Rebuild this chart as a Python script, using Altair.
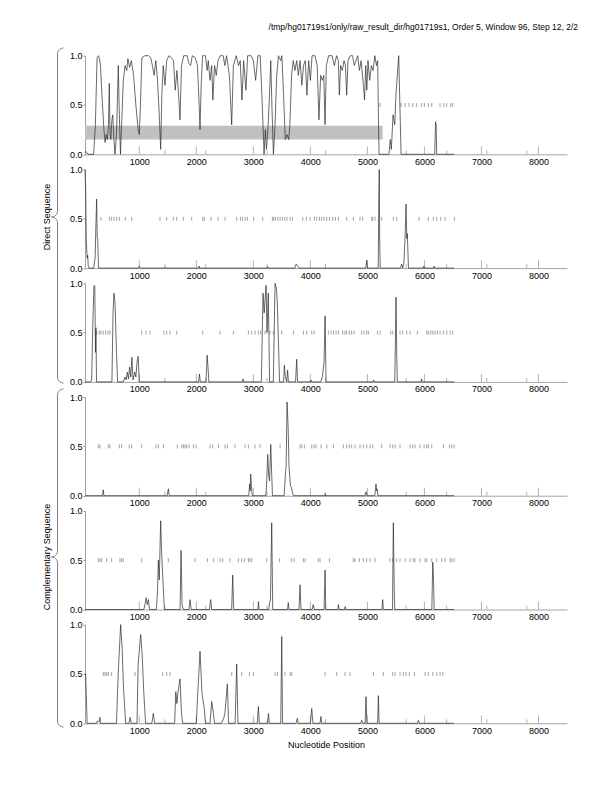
import altair as alt
import pandas as pd
import numpy as np

FONT = "Liberation Sans"
W, H = 482, 98.6
X0, X1 = 48, 8500
SPACING = 14.8

TITLE = "/tmp/hg01719s1/only/raw_result_dir/hg01719s1, Order 5, Window 96, Step 12, 2/2"
XTITLE = "Nucleotide Position"
LABEL_DIRECT = "Direct Sequence"
LABEL_COMP = "Complementary Sequence"

major_ticks = [1000, 2000, 3000, 4000, 5000, 6000, 7000, 8000]
minor_ticks = [1450, 2165, 3240, 4265, 5680, 6390, 7095, 7795]
y_ticks = [0.0, 0.5, 1.0]

# predicted gene (panel 1)
gene_start = [48]
gene_end = [5268]
gene_lo = [0.15]
gene_hi = [0.29]

# ---- coding potential curves (position, value) ----
p1_pos = [48, 60, 100, 200, 230, 260, 285, 300, 320, 345, 380, 400, 420, 440, 460, 474, 485, 500, 520, 535, 550, 574, 600, 632, 650, 670, 690, 720, 750, 780, 800, 830, 860, 900, 940, 980, 1000, 1020, 1045, 1100, 1160, 1200, 1230, 1260, 1290, 1320, 1350, 1375, 1395, 1420, 1450, 1480, 1520, 1560, 1600, 1630, 1660, 1690, 1714, 1740, 1780, 1840, 1870, 1900, 1930, 1980, 2020, 2050, 2065, 2085, 2110, 2160, 2190, 2210, 2240, 2270, 2290, 2320, 2350, 2380, 2420, 2470, 2500, 2530, 2580, 2620, 2650, 2700, 2740, 2770, 2800, 2830, 2870, 2900, 2960, 3000, 3040, 3080, 3120, 3150, 3188, 3210, 3230, 3260, 3290, 3305, 3325, 3352, 3380, 3410, 3440, 3480, 3500, 3530, 3560, 3590, 3620, 3640, 3670, 3700, 3730, 3760, 3790, 3820, 3850, 3880, 3910, 3940, 3970, 4000, 4030, 4080, 4120, 4150, 4180, 4210, 4235, 4257, 4280, 4320, 4380, 4420, 4460, 4490, 4508, 4530, 4560, 4590, 4615, 4637, 4660, 4700, 4740, 4770, 4800, 4830, 4860, 4890, 4930, 4950, 4970, 4990, 5010, 5040, 5070, 5100, 5130, 5160, 5180, 5195, 5205, 5380, 5400, 5420, 5450, 5480, 5500, 5549, 5570, 5590, 6180, 6195, 6205, 6215, 6520]
p1_val = [0.02, 0.03, 0.0, 0.0, 0.3, 0.98, 1.0, 0.97, 0.9, 0.6, 0.25, 0.12, 0.2, 0.15, 0.3, 0.72, 0.25, 0.15, 0.35, 0.4, 0.2, 0.0, 0.2, 0.9, 0.4, 0.0, 0.3, 0.75, 0.9, 0.85, 0.97, 0.88, 0.95, 0.8, 0.5, 0.25, 0.2, 0.5, 0.98, 1.0, 1.0, 0.98, 0.9, 0.8, 0.95, 0.75, 0.4, 0.05, 0.6, 0.9, 0.7, 0.95, 1.0, 0.98, 0.95, 0.65, 0.85, 0.6, 0.35, 0.9, 1.0, 1.0, 0.92, 0.9, 1.0, 0.98, 0.9, 0.5, 0.25, 0.7, 1.0, 1.0, 0.85, 0.95, 0.75, 0.9, 0.55, 0.9, 0.8, 0.95, 1.0, 1.0, 0.9, 1.0, 0.8, 0.3, 0.9, 1.0, 0.9, 0.95, 0.55, 0.95, 0.65, 1.0, 1.0, 0.95, 0.75, 1.0, 1.0, 0.6, 0.0, 0.25, 0.05, 0.3, 0.7, 0.95, 0.5, 0.0, 0.3, 0.8, 1.0, 0.95, 1.0, 0.6, 0.15, 0.2, 0.15, 0.3, 0.8, 0.95, 0.85, 0.95, 0.8, 0.95, 0.7, 0.9, 0.95, 0.6, 0.95, 0.75, 1.0, 1.0, 0.9, 0.35, 0.8, 0.75, 0.8, 0.3, 0.9, 1.0, 1.0, 0.9, 1.0, 0.95, 0.6, 0.9, 0.85, 0.95, 0.9, 0.6, 0.95, 1.0, 1.0, 0.9, 0.95, 1.0, 0.85, 0.95, 0.7, 0.55, 0.9, 0.65, 0.95, 0.75, 0.9, 0.85, 1.0, 0.9, 0.95, 0.3, 0.0, 0.0, 0.15, 0.05, 0.4, 0.3, 0.6, 1.0, 0.5, 0.0, 0.0, 0.33, 0.3, 0.0, 0.0]

p2_pos = [48, 60, 70, 85, 95, 105, 120, 200, 225, 240, 252, 262, 270, 285, 980, 1000, 1020, 1440, 1450, 1460, 2040, 2050, 2060, 3240, 3250, 3260, 3730, 3750, 3780, 3800, 4970, 4988, 5000, 5190, 5200, 5208, 5215, 5225, 5580, 5600, 5620, 5640, 5660, 5678, 5690, 5700, 5720, 5980, 5990, 6000, 6160, 6170, 6180, 6520]
p2_val = [1.0, 0.8, 0.3, 0.1, 0.13, 0.02, 0.0, 0.0, 0.1, 0.45, 0.7, 0.3, 0.3, 0.0, 0.0, 0.02, 0.0, 0.0, 0.01, 0.0, 0.0, 0.02, 0.0, 0.0, 0.015, 0.0, 0.0, 0.04, 0.02, 0.0, 0.0, 0.08, 0.0, 0.0, 0.7, 1.0, 0.3, 0.0, 0.0, 0.04, 0.0, 0.05, 0.3, 0.65, 0.3, 0.35, 0.0, 0.0, 0.02, 0.0, 0.0, 0.02, 0.0, 0.0]

p3_pos = [48, 150, 165, 185, 205, 220, 232, 240, 250, 520, 540, 556, 575, 600, 620, 720, 750, 770, 790, 810, 830, 850, 870, 890, 920, 940, 960, 980, 1000, 2040, 2055, 2070, 2170, 2190, 2205, 2220, 2810, 2820, 2830, 3140, 3170, 3190, 3223, 3240, 3262, 3285, 3350, 3381, 3405, 3420, 3460, 3530, 3545, 3560, 3585, 3600, 3615, 3740, 3760, 3775, 4000, 4010, 4020, 4180, 4210, 4240, 4258, 4275, 5100, 5110, 5120, 5480, 5502, 5515, 5525, 5940, 5950, 5960, 6520]
p3_val = [0.0, 0.0, 0.02, 0.6, 0.98, 0.97, 0.3, 0.55, 0.0, 0.0, 0.7, 0.9, 0.8, 0.3, 0.0, 0.0, 0.05, 0.02, 0.1, 0.03, 0.15, 0.05, 0.25, 0.02, 0.1, 0.05, 0.2, 0.26, 0.0, 0.0, 0.08, 0.0, 0.0, 0.27, 0.15, 0.0, 0.0, 0.03, 0.0, 0.0, 0.9, 0.7, 0.98, 0.5, 0.9, 0.0, 0.0, 1.0, 0.95, 0.8, 0.0, 0.0, 0.17, 0.05, 0.0, 0.12, 0.0, 0.0, 0.23, 0.0, 0.0, 0.02, 0.0, 0.0, 0.05, 0.2, 0.67, 0.0, 0.0, 0.02, 0.0, 0.0, 0.86, 0.25, 0.0, 0.0, 0.03, 0.0, 0.0]

p4_pos = [48, 355, 369, 380, 1490, 1510, 1525, 2920, 2935, 2945, 2954, 2965, 2980, 3220, 3235, 3252, 3270, 3285, 3305, 3320, 3335, 3540, 3560, 3575, 3591, 3610, 3625, 3650, 3670, 3690, 3710, 4250, 4258, 4270, 4960, 4976, 4990, 5130, 5140, 5151, 5160, 5170, 5185, 6520]
p4_val = [0.0, 0.0, 0.06, 0.0, 0.0, 0.07, 0.0, 0.0, 0.12, 0.05, 0.22, 0.1, 0.0, 0.0, 0.15, 0.42, 0.2, 0.15, 0.52, 0.25, 0.0, 0.0, 0.2, 0.3, 0.95, 0.7, 0.3, 0.1, 0.08, 0.02, 0.0, 0.0, 0.02, 0.0, 0.0, 0.04, 0.0, 0.0, 0.06, 0.12, 0.05, 0.07, 0.0, 0.0]

p5_pos = [48, 1080, 1100, 1120, 1140, 1160, 1180, 1300, 1320, 1334, 1350, 1375, 1390, 1410, 1440, 1715, 1732, 1750, 1770, 1870, 1890, 1910, 2230, 2252, 2270, 2620, 2638, 2655, 3080, 3090, 3100, 3270, 3285, 3300, 3322, 3340, 3600, 3612, 3625, 3800, 3819, 3835, 4030, 4050, 4070, 4240, 4258, 4270, 4480, 4492, 4505, 4600, 4610, 4620, 5255, 5268, 5280, 5440, 5455, 5470, 5480, 6130, 6146, 6160, 6170, 6520]
p5_val = [0.0, 0.0, 0.05, 0.12, 0.05, 0.1, 0.0, 0.0, 0.2, 0.5, 0.3, 0.9, 0.6, 0.35, 0.0, 0.0, 0.6, 0.05, 0.0, 0.0, 0.1, 0.0, 0.0, 0.1, 0.0, 0.0, 0.35, 0.0, 0.0, 0.08, 0.0, 0.0, 0.07, 0.1, 0.88, 0.0, 0.0, 0.07, 0.0, 0.0, 0.25, 0.0, 0.0, 0.05, 0.0, 0.0, 0.4, 0.0, 0.0, 0.05, 0.0, 0.0, 0.03, 0.0, 0.0, 0.1, 0.0, 0.0, 0.88, 0.2, 0.0, 0.0, 0.48, 0.3, 0.0, 0.0]

p6_pos = [48, 59, 70, 85, 250, 260, 300, 310, 320, 600, 630, 673, 700, 720, 740, 760, 820, 840, 860, 960, 980, 1024, 1050, 1080, 1110, 1220, 1246, 1270, 1620, 1640, 1660, 1675, 1714, 1740, 1760, 2000, 2020, 2065, 2100, 2140, 2160, 2240, 2270, 2300, 2320, 2440, 2480, 2500, 2545, 2565, 2680, 2708, 2730, 3070, 3088, 3105, 3250, 3265, 3280, 3480, 3498, 3512, 3750, 3770, 3790, 4000, 4024, 4045, 4170, 4185, 4200, 4880, 4900, 4920, 4960, 4976, 4990, 5180, 5192, 5205, 5880, 5894, 5910, 6520]
p6_val = [0.5, 0.5, 0.3, 0.0, 0.0, 0.02, 0.02, 0.06, 0.0, 0.0, 0.5, 1.0, 0.75, 0.4, 0.2, 0.0, 0.0, 0.06, 0.0, 0.0, 0.6, 0.9, 0.7, 0.3, 0.0, 0.0, 0.1, 0.0, 0.0, 0.32, 0.2, 0.3, 0.45, 0.1, 0.0, 0.0, 0.25, 0.73, 0.3, 0.15, 0.0, 0.0, 0.22, 0.1, 0.0, 0.0, 0.05, 0.1, 0.4, 0.0, 0.0, 0.6, 0.0, 0.0, 0.17, 0.0, 0.0, 0.1, 0.0, 0.0, 0.88, 0.0, 0.0, 0.05, 0.0, 0.0, 0.15, 0.0, 0.0, 0.07, 0.0, 0.0, 0.03, 0.0, 0.0, 0.27, 0.0, 0.0, 0.28, 0.0, 0.0, 0.03, 0.0, 0.0]

# ---- stop codon positions (ticks at 0.5) ----
s1 = [5222, 5590, 5660, 5730, 5795, 5865, 5952, 6000, 6069, 6128, 6274, 6344, 6391, 6461, 6496]
s2 = [328, 474, 515, 556, 603, 650, 755, 866, 1363, 1480, 1597, 1656, 1773, 1919, 2112, 2141, 2258, 2381, 2504, 2708, 2772, 2808, 2855, 2895, 3006, 3164, 3334, 3357, 3387, 3428, 3469, 3509, 3550, 3591, 3644, 3685, 3866, 3930, 3995, 4071, 4112, 4159, 4200, 4240, 4287, 4334, 4392, 4439, 4492, 4637, 4754, 4871, 4917, 5075, 5093, 5134, 5251, 5455, 5514, 5906, 6069, 6157, 6216, 6286, 6362, 6526]
s3 = [252, 299, 328, 369, 410, 451, 486, 1042, 1118, 1188, 1433, 1480, 1539, 1656, 2112, 2416, 2650, 2913, 2971, 3030, 3088, 3129, 3205, 3293, 3352, 3498, 3702, 3878, 3936, 4024, 4065, 4316, 4363, 4404, 4451, 4492, 4567, 4607, 4637, 4683, 4724, 4765, 4900, 4941, 4988, 5017, 5175, 5222, 5409, 5444, 5572, 5619, 5689, 5748, 5876, 6040, 6069, 6110, 6146, 6186, 6227, 6274, 6333, 6391, 6450, 6496]
s4 = [281, 311, 457, 486, 650, 691, 825, 866, 1042, 1293, 1334, 1422, 1667, 1743, 1773, 1802, 1831, 1872, 1948, 1995, 2240, 2287, 2387, 2504, 2545, 2679, 2855, 2913, 3030, 3118, 3469, 3819, 3849, 3895, 4024, 4065, 4100, 4188, 4287, 4404, 4578, 4637, 4683, 4724, 4783, 4871, 4929, 4988, 5046, 5093, 5251, 5397, 5444, 5485, 5572, 5748, 5795, 5836, 5923, 5994, 6040, 6069, 6128, 6333, 6438, 6479, 6520]
s5 = [281, 311, 340, 428, 515, 661, 691, 720, 1042, 1509, 1977, 2194, 2299, 2416, 2463, 2592, 2738, 2796, 2843, 2913, 2942, 2971, 3235, 3457, 3673, 3714, 3878, 3907, 4141, 4170, 4334, 4754, 4783, 4859, 4929, 4988, 5046, 5134, 5397, 5444, 5514, 5572, 5660, 5748, 5806, 5836, 5923, 6011, 6040, 6128, 6216, 6303, 6362, 6450, 6479, 6520]
s6 = [369, 398, 428, 457, 515, 925, 1410, 1480, 1539, 2621, 2796, 2931, 3001, 3381, 3422, 3556, 3644, 3673, 4258, 4463, 4607, 4695, 5105, 5280, 5444, 5485, 5572, 5631, 5678, 5736, 5824, 6011, 6069, 6146, 6216, 6274, 6321]

# ---------------------------------------------------------------
PLOT_LEFT, PLOT_TOP = 85.0, 55.7  # page position of first plot area


def to_data(px, py):
    """page pixel -> panel-1 data coordinates (for decorations)"""
    bx = X0 + (np.asarray(px) - PLOT_LEFT) / W * (X1 - X0)
    by = 1 - (np.asarray(py) - PLOT_TOP) / H
    return bx, by


def brace_path(top, mid, bot, xv, r, n=12):
    t = np.linspace(0, np.pi / 2, n)
    xs, ys = [], []
    cx, cy = xv + r, top + r
    xs += list(cx - r * np.sin(t)); ys += list(cy - r * np.cos(t))
    cx, cy = xv - r, mid - r
    xs += list(cx + r * np.cos(t)); ys += list(cy + r * np.sin(t))
    cx, cy = xv - r, mid + r
    xs += list(cx + r * np.sin(t)); ys += list(cy - r * np.cos(t))
    cx, cy = xv + r, bot - r
    xs += list(cx - r * np.cos(t)); ys += list(cy + r * np.sin(t))
    return xs, ys


xscale = alt.Scale(domain=[X0, X1], nice=False, zero=False)
yscale = alt.Scale(domain=[0, 1], nice=False, zero=False)


def axes(bottom):
    xa = alt.Axis(values=major_ticks, format="d", ticks=False, grid=False,
                  domainColor="#8c8c8c", domainWidth=0.8, labelFont=FONT,
                  labelFontSize=9, labelPadding=3, labelColor="black",
                  title=XTITLE if bottom else None,
                  titleFont=FONT, titleFontSize=9, titleFontWeight="normal",
                  titlePadding=5, titleColor="black")
    ya = alt.Axis(values=y_ticks, format=".1f", grid=False, domainColor="#8c8c8c",
                  domainWidth=0.8, tickColor="#8c8c8c", tickSize=2, labelPadding=1,
                  labelFont=FONT, labelFontSize=9, labelColor="black", title=None)
    return xa, ya


def panel(pos, val, stops, bottom=False, first=False):
    xa, ya = axes(bottom)
    layers = []
    tdf = pd.DataFrame({"t": major_ticks + minor_ticks,
                        "y0": 0.0,
                        "h": [0.08] * len(major_ticks) + [0.04] * len(minor_ticks)})
    layers.append(alt.Chart(tdf).mark_rule(color="#a0a0a0", strokeWidth=0.8).encode(
        x=alt.X("t:Q", scale=xscale, axis=xa),
        y=alt.Y("y0:Q", scale=yscale, axis=ya), y2="h:Q"))
    if first:
        gdf = pd.DataFrame({"a": gene_start, "b": gene_end, "lo": gene_lo, "hi": gene_hi})
        layers.append(alt.Chart(gdf).mark_rect(color="#c0c0c0").encode(
            x=alt.X("a:Q", scale=xscale, axis=xa), x2="b:Q",
            y=alt.Y("lo:Q", scale=yscale, axis=ya), y2="hi:Q"))
    sdf = pd.DataFrame({"s": stops, "lo": 0.48, "hi": 0.52})
    layers.append(alt.Chart(sdf).mark_rule(color="#8a8a8a", strokeWidth=0.8).encode(
        x=alt.X("s:Q", scale=xscale, axis=xa),
        y=alt.Y("lo:Q", scale=yscale, axis=ya), y2="hi:Q"))
    cdf = pd.DataFrame({"pos": pos, "val": val})
    layers.append(alt.Chart(cdf).mark_line(color="#2a2a2a", strokeWidth=0.7).encode(
        x=alt.X("pos:Q", scale=xscale, axis=xa),
        y=alt.Y("val:Q", scale=yscale, axis=ya)))
    if first:
        rows = []
        for g, (tp, md, bt) in enumerate([(48, 217, 383), (389, 557, 727)]):
            bx, by = brace_path(tp, md, bt, 57.5, 6)
            dx, dy = to_data(bx, by)
            for i, (a, b) in enumerate(zip(dx, dy)):
                rows.append({"bx": a, "by": b, "g": g, "i": i})
        bdf = pd.DataFrame(rows)
        layers.append(alt.Chart(bdf).mark_line(color="#606060", strokeWidth=0.8).encode(
            x=alt.X("bx:Q", scale=xscale, axis=xa),
            y=alt.Y("by:Q", scale=yscale, axis=ya),
            detail="g:N", order="i:Q"))
        lx, ly = to_data([46.5, 46.5], [217, 557])
        tx, ty = to_data([578], [27])
        ldf = pd.DataFrame({"lx": list(lx), "ly": list(ly), "txt": [LABEL_DIRECT, LABEL_COMP]})
        layers.append(alt.Chart(ldf).mark_text(font=FONT, fontSize=9, angle=270,
                                               align="center", baseline="middle",
                                               color="black").encode(
            x=alt.X("lx:Q", scale=xscale, axis=xa),
            y=alt.Y("ly:Q", scale=yscale, axis=ya), text="txt:N"))
        tdf2 = pd.DataFrame({"tx": list(tx), "ty": list(ty), "txt": [TITLE]})
        layers.append(alt.Chart(tdf2).mark_text(font=FONT, fontSize=8.5, align="right",
                                                baseline="middle", color="black").encode(
            x=alt.X("tx:Q", scale=xscale, axis=xa),
            y=alt.Y("ty:Q", scale=yscale, axis=ya), text="txt:N"))
    return alt.layer(*layers).properties(width=W, height=H)


panels = [
    panel(p1_pos, p1_val, s1, first=True),
    panel(p2_pos, p2_val, s2),
    panel(p3_pos, p3_val, s3),
    panel(p4_pos, p4_val, s4),
    panel(p5_pos, p5_val, s5),
    panel(p6_pos, p6_val, s6, bottom=True),
]

chart = alt.vconcat(*panels, spacing=SPACING, bounds="flush").properties(
    padding={"left": 34, "top": 14.7, "right": 5, "bottom": 5},
    background="white",
).configure_view(stroke=None)

chart.save("out.html", embed_options={"renderer": "svg", "actions": False})
